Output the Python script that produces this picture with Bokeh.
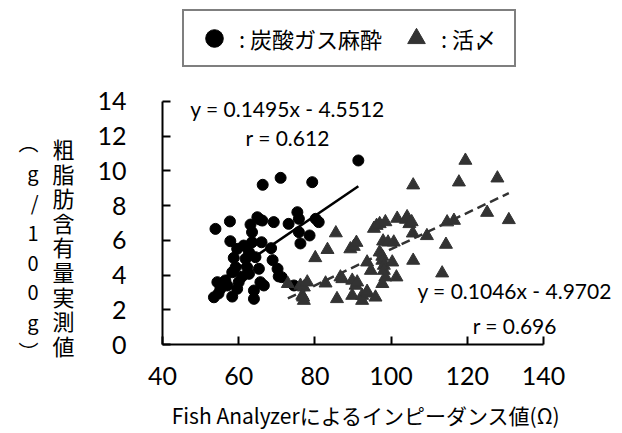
from bokeh.plotting import figure
from bokeh.models import Label, FixedTicker, Range1d, LinearAxis, Legend, LegendItem
from bokeh.embed import file_html
from bokeh.resources import INLINE

# ---- data ----
co2_x = [91.4, 66.3, 71.0, 79.3, 53.9, 57.7, 63.1, 64.9, 66.2, 69.2, 73.1, 75.4, 75.8, 80.2,
         81.0, 63.5, 75.8, 78.6, 76.2, 57.8, 61.3, 63.5, 66.0, 59.6, 68.5, 62.7, 58.7, 61.8,
         64.4, 68.9, 59.2, 62.2, 65.3, 70.2, 58.3, 62.7, 70.5, 71.3, 54.4, 56.5, 60.0, 65.7,
         55.2, 59.6, 64.0, 53.5, 58.3, 64.0, 54.7, 74.5, 65.5, 60.8, 66.6, 57.0]
co2_y = [10.6, 9.2, 9.6, 9.35, 6.66, 7.09, 6.91, 7.33, 7.14, 7.05, 6.95, 7.62, 7.24, 7.24,
         7.05, 6.47, 6.47, 6.28, 5.82, 5.95, 5.70, 5.89, 5.89, 5.51, 5.55, 5.32, 4.99, 4.94,
         5.03, 4.86, 4.45, 4.45, 4.36, 4.36, 4.16, 4.07, 3.92, 3.88, 3.59, 3.69, 3.59, 3.59,
         3.21, 3.21, 3.11, 2.72, 2.76, 2.63, 2.94, 3.40, 7.20, 3.90, 3.40, 3.40]

ike_x = [72.9, 76.2, 77.1, 78.0, 76.7, 77.1, 80.1, 82.8, 83.3, 85.5, 85.8, 87.2, 89.3, 90.2,
         90.9, 89.8, 90.7, 89.8, 92.4, 92.4, 93.7, 95.9, 93.7, 94.7, 95.5, 96.2, 97.0, 98.5,
         101.6, 103.9, 104.2, 104.8, 105.4, 97.9, 99.2, 100.7, 97.0, 97.7, 97.7, 98.1, 100.3,
         98.1, 98.5, 101.4, 97.7, 105.7, 105.8, 105.8, 109.4, 114.4, 113.4, 114.7, 116.5,
         117.8, 119.5, 125.2, 127.9, 130.9, 91.1, 86.7, 93.7, 76.9]
ike_y = [3.50, 3.40, 3.30, 3.59, 2.82, 2.53, 4.99, 3.53, 5.46, 6.42, 2.63, 3.78, 5.50, 5.64,
         5.87, 3.69, 3.40, 2.82, 2.82, 2.53, 2.95, 2.72, 4.74, 4.26, 6.68, 6.85, 6.95, 7.06,
         7.26, 7.20, 7.35, 6.95, 7.06, 5.95, 5.89, 5.89, 5.32, 5.07, 4.84, 4.55, 4.74,
         4.26, 3.88, 3.88, 3.50, 6.41, 4.84, 9.18, 6.26, 5.76, 4.11, 7.05, 7.14,
         9.35, 10.6, 7.60, 9.58, 7.18, 3.59, 3.88, 3.05, 2.72]

x_ticks = [40, 60, 80, 100, 120, 140]
y_ticks = [0, 2, 4, 6, 8, 10, 12, 14]

co2_slope, co2_icpt, co2_r = 0.1495, -4.5512, 0.612
ike_slope, ike_icpt, ike_r = 0.1046, -4.9702, 0.696

legend_labels = ["炭酸ガス麻酔", "活〆"]
ylabel_main = "粗脂肪含有量実測値"
ylabel_unit = ["︵", "g", "/", "1", "0", "0", "g", "︶"]
xlabel = "Fish Analyzerによるインピーダンス値(Ω)"

NUM_FONT = "Lato"
JP_FONT = "Noto Sans CJK JP"

# layout: axes span 40..140 and 0..14; frame extended right/up so texts are not clipped
PX_X = 3.81   # px per x unit
PX_Y = 17.36  # px per y unit
W, H = 622, 433
LEFT, BOTTOM = 162, 89
x_end = 40 + (W - LEFT) / PX_X
y_end = (H - BOTTOM) / PX_Y

p = figure(width=W, height=H, output_backend="svg", toolbar_location=None,
           x_range=Range1d(40, x_end), y_range=Range1d(0, y_end),
           min_border_left=LEFT, min_border_right=0, min_border_top=0, min_border_bottom=BOTTOM)
p.outline_line_color = None
p.xgrid.visible = False
p.ygrid.visible = False
p.background_fill_color = "white"
p.border_fill_color = "white"

for ax in (p.xaxis, p.yaxis):
    ax.axis_line_width = 2
    ax.axis_line_color = "black"
    ax.major_tick_line_width = 2
    ax.major_tick_line_color = "black"
    ax.major_tick_in = 8
    ax.major_tick_out = 0
    ax.minor_tick_line_color = None
    ax.major_label_text_font = NUM_FONT
    ax.major_label_text_font_size = "25px"
    ax.major_label_text_color = "black"
    ax.axis_label = None

p.xaxis.ticker = FixedTicker(ticks=x_ticks)
p.yaxis.ticker = FixedTicker(ticks=y_ticks)
p.xaxis.bounds = (x_ticks[0], x_ticks[-1])
p.yaxis.bounds = (y_ticks[0], y_ticks[-1])
p.xaxis.major_label_standoff = 22
p.yaxis.major_label_standoff = 36


def label_axis(text, font_size, line_height, standoff, orientation):
    ax = LinearAxis(ticker=FixedTicker(ticks=[]),
                    axis_label=text, axis_label_standoff=standoff,
                    axis_label_text_font=JP_FONT, axis_label_text_font_size=font_size,
                    axis_label_text_font_style="normal", axis_label_text_color="black",
                    axis_label_text_line_height=line_height,
                    major_tick_in=0, major_tick_out=0, major_label_standoff=0,
                    axis_line_color=None, major_tick_line_color=None,
                    minor_tick_line_color=None)
    if orientation is not None:
        ax.axis_label_orientation = orientation
    return ax


# y-axis titles (vertical Japanese text, two columns); the label is centred on the
# frame, so leading blank lines move the text down to the 0..14 span
p.add_layout(label_axis("\n" * 6 + "\n".join(ylabel_main), "22px", 0.77, 20,
                        "horizontal"), "left")
p.add_layout(label_axis("\n" * 5 + "\n".join(ylabel_unit), "20px", 1.03, 11,
                        "horizontal"), "left")
# x-axis title (trailing wide spaces shift it left toward the 40..140 span)
p.add_layout(label_axis(xlabel + "\u3000\u3000\u2002", "21px", 1.0, 12, None), "below")

# scatter
circ = p.scatter(co2_x, co2_y, marker="circle", size=11, color="black")
tri = p.scatter(ike_x, ike_y, marker="triangle", size=13, color="#333333")

# regression lines
cx0, cx1 = min(co2_x), max(co2_x)
p.line([cx0, cx1], [co2_slope * cx0 + co2_icpt, co2_slope * cx1 + co2_icpt],
       line_color="black", line_width=2.5)
ix0, ix1 = min(ike_x), max(ike_x)
p.line([ix0, ix1], [ike_slope * ix0 + ike_icpt, ike_slope * ix1 + ike_icpt],
       line_color="#333333", line_width=2.5, line_dash="9 5")


def eq(s, b):
    return f"y = {s:.4f}x - {abs(b):.4f}"


ann_kw = dict(text_font=NUM_FONT, text_font_size="21px", text_color="black",
              text_baseline="middle", text_align="left")
p.add_layout(Label(x=47.3, y=13.62, text=eq(co2_slope, co2_icpt), **ann_kw))
p.add_layout(Label(x=61.8, y=11.9, text=f"r = {co2_r:.3f}", **ann_kw))
p.add_layout(Label(x=106.9, y=3.12, text=eq(ike_slope, ike_icpt), **ann_kw))
p.add_layout(Label(x=121.4, y=1.12, text=f"r = {ike_r:.3f}", **ann_kw))

# legend box at the top
legend = Legend(items=[LegendItem(label=": " + legend_labels[0], renderers=[circ]),
                       LegendItem(label=": " + legend_labels[1], renderers=[tri])],
                orientation="horizontal", location=(20, 277),
                glyph_width=50, glyph_height=44, label_standoff=0, spacing=9,
                label_width=68, padding=5, margin=0,
                label_text_font=JP_FONT, label_text_font_size="22px",
                label_text_color="black",
                border_line_color="black", border_line_width=2,
                background_fill_color="white", background_fill_alpha=1.0)
p.add_layout(legend, "center")

open("out.html", "w").write(file_html(p, INLINE))
